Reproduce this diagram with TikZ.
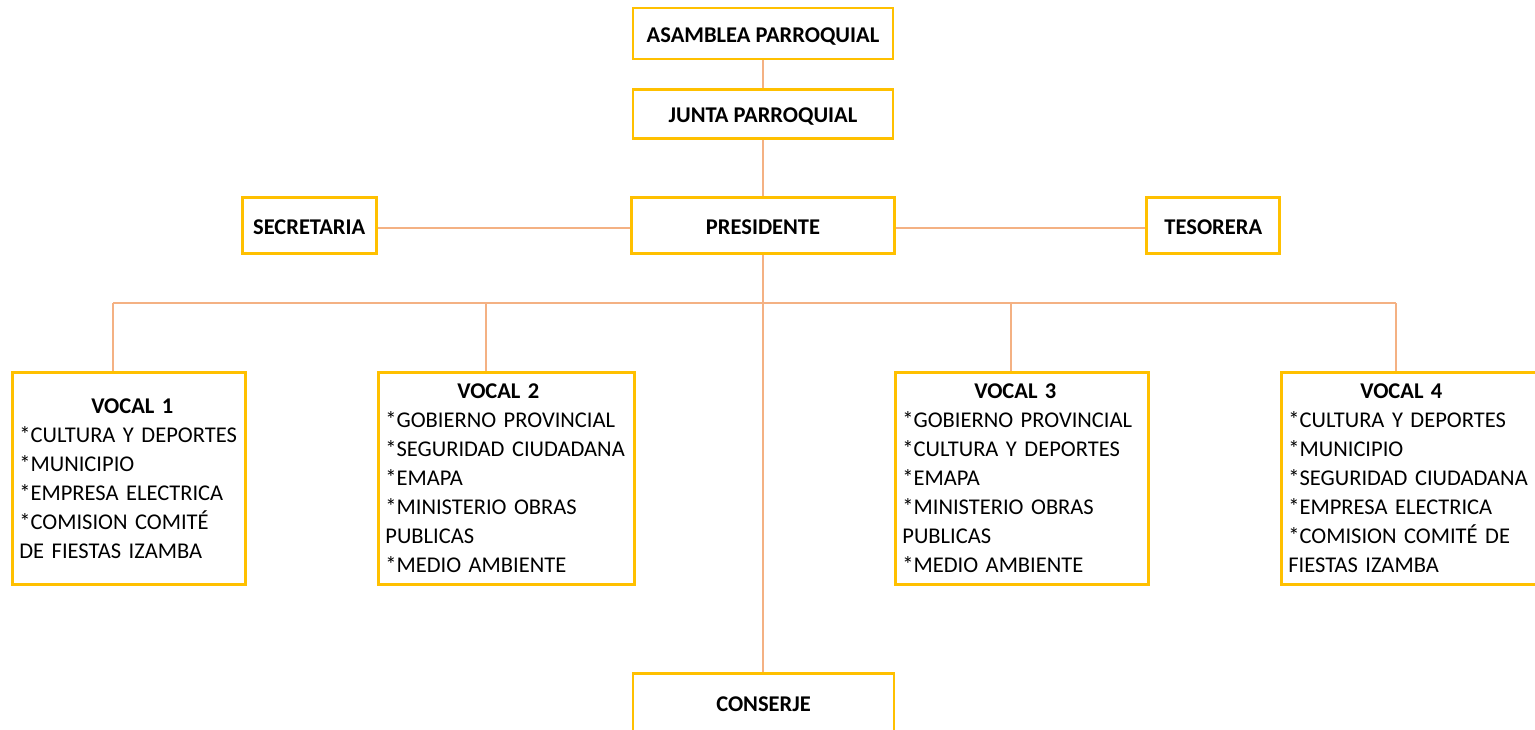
\documentclass[tikz,border=0pt]{standalone}
\usepackage{fontspec}
\setmainfont{Carlito}
\usetikzlibrary{positioning}
\definecolor{boxgold}{RGB}{255,192,0}
\definecolor{lineorange}{RGB}{244,177,131}
\begin{document}
\begin{tikzpicture}[x=1pt, y=-1pt,
    box/.style={rectangle, draw=boxgold, line width=2.8pt, inner sep=0pt, text height=18pt, text depth=0pt, font=\fontsize{22.5}{26}\selectfont\bfseries},
    vocal/.style={rectangle, draw=boxgold, line width=2.8pt, anchor=north west, align=left, inner xsep=7pt, inner ysep=0pt, minimum height=212pt, font=\fontsize{22.5}{29}\selectfont},
    link/.style={draw=lineorange, line width=1.5pt}]
        \useasboundingbox (0,0) rectangle (1535,729);
        \clip (0,0) rectangle (1535,729);

        %% Top of the chart
        \node[box, minimum width=260pt, minimum height=51pt] (asamblea) at (763,33.5) {ASAMBLEA PARROQUIAL};
        \node[box, minimum width=260pt, minimum height=49pt, below=27.5pt of asamblea] (junta) {JUNTA PARROQUIAL};
        \node[box, minimum width=263pt, minimum height=56pt, below=56.5pt of junta] (presidente) {PRESIDENTE};
        \node[box, minimum width=134pt, minimum height=56pt, left=252.5pt of presidente] (secretaria) {SECRETARIA};
        \node[box, minimum width=133pt, minimum height=56pt, right=249.5pt of presidente] (tesorera) {TESORERA};

        \draw[link] (asamblea) -- (junta);
        \draw[link] (junta) -- (presidente);
        \draw[link] ([yshift=-2.2pt]secretaria.east) -- ([yshift=-2.2pt]secretaria.east -| presidente.west);
        \draw[link] ([yshift=-2.2pt]presidente.east) -- ([yshift=-2.2pt]presidente.east -| tesorera.west);

        %% Vocales
        \node[vocal, text width=219pt] (v1) at (11,371) {\makebox[226pt]{\bfseries VOCAL 1}\\
            {*}CULTURA~Y~DEPORTES\\
            {*}MUNICIPIO\\
            {*}EMPRESA~ELECTRICA\\
            {*}COMISION~COMITÉ\\
            DE~FIESTAS~IZAMBA};
        \node[vocal, text width=242pt] (v2) at (377,371) {\makebox[226pt]{\bfseries VOCAL 2}\\
            {*}GOBIERNO~PROVINCIAL\\
            {*}SEGURIDAD~CIUDADANA\\
            {*}EMAPA\\
            {*}MINISTERIO~OBRAS\\
            PUBLICAS\\
            {*}MEDIO~AMBIENTE};
        \node[vocal, text width=239pt] (v3) at (894,371) {\makebox[226pt]{\bfseries VOCAL 3}\\
            {*}GOBIERNO~PROVINCIAL\\
            {*}CULTURA~Y~DEPORTES\\
            {*}EMAPA\\
            {*}MINISTERIO~OBRAS\\
            PUBLICAS\\
            {*}MEDIO~AMBIENTE};
        \node[vocal, text width=256pt] (v4) at (1280,371) {\makebox[226pt]{\bfseries VOCAL 4}\\
            {*}CULTURA~Y~DEPORTES\\
            {*}MUNICIPIO\\
            {*}SEGURIDAD~CIUDADANA\\
            {*}EMPRESA~ELECTRICA\\
            {*}COMISION~COMITÉ~DE\\
            FIESTAS~IZAMBA};

        \coordinate (b1) at (113,303);
        \coordinate (b2) at (486,303);
        \coordinate (b3) at (1011,303);
        \coordinate (b4) at (1396,303);
        \draw[link] (b1) -- (b4);
        \draw[link] (b1) -- (b1 |- v1.north);
        \draw[link] (b2) -- (b2 |- v2.north);
        \draw[link] (b3) -- (b3 |- v3.north);
        \draw[link] (b4) -- (b4 |- v4.north);

        %% Conserje
        \node[box, minimum width=261pt, minimum height=80pt, anchor=north] (conserje) at (763.5,672) {\raisebox{11pt}{CONSERJE}};
        \draw[link] (presidente) -- (presidente |- conserje.north);
\end{tikzpicture}
\end{document}
